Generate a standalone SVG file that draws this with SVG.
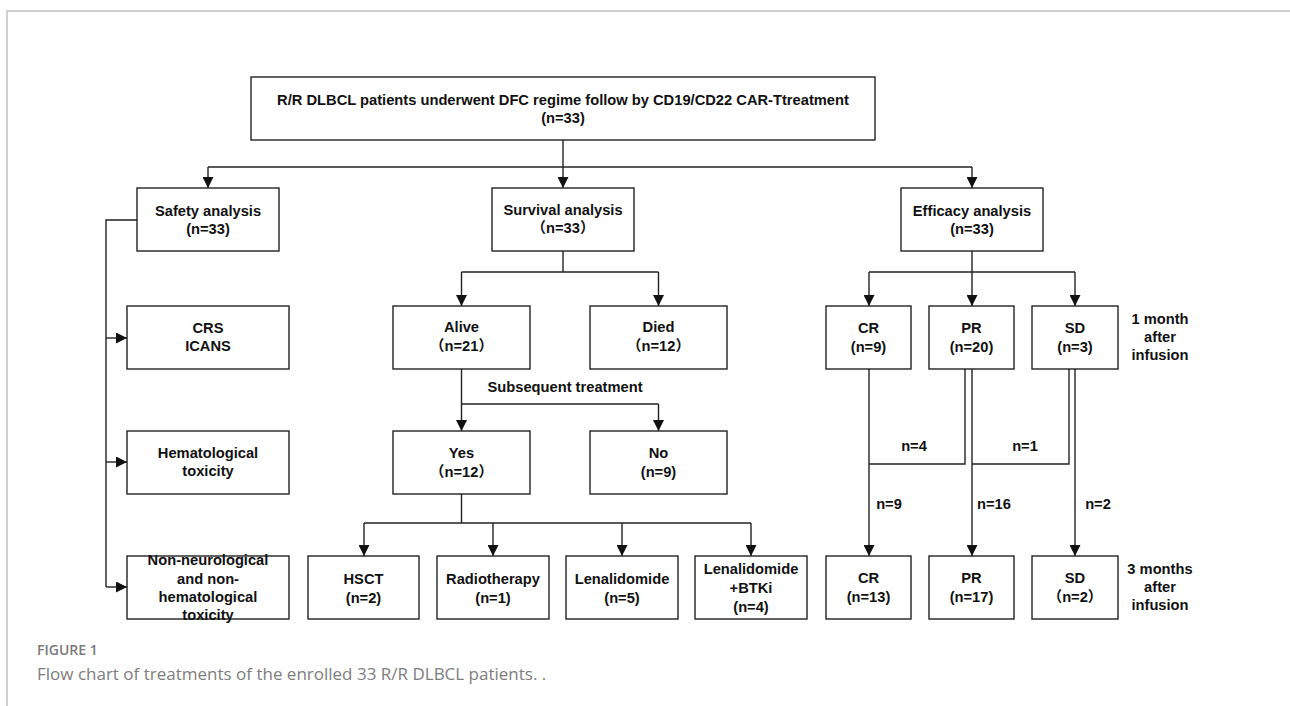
<svg xmlns="http://www.w3.org/2000/svg" width="1290" height="706" viewBox="0 0 1290 706">
<defs>
<marker id="ah" markerUnits="userSpaceOnUse" markerWidth="11" markerHeight="11" refX="11" refY="5.5" orient="auto">
<path d="M0,0 L11,5.5 L0,11 z" fill="#111"/>
</marker>
<style>
.box{fill:#fff;stroke:#222;stroke-width:1.4}
.t{font-family:"Liberation Sans","Noto Sans CJK SC",Arial,sans-serif;font-size:14.7px;font-weight:bold;fill:#111;text-anchor:middle;dominant-baseline:central}
.ln{fill:none;stroke:#222;stroke-width:1.4}
.arr{fill:none;stroke:#222;stroke-width:1.4;marker-end:url(#ah)}
.frame{fill:none;stroke:#d0d0d0;stroke-width:2}
.cap1{font-family:"Open Sans",sans-serif;font-size:14px;font-weight:600;fill:#7a7a7a}
.cap2{font-family:"Open Sans",sans-serif;font-size:17px;fill:#7d7d7d}
</style>
</defs>
<rect width="1290" height="706" fill="#fff"/>
<path class="frame" d="M7,706 V11 H1290"/>

<g id="connectors">
<line class="arr" x1="563" y1="140" x2="563" y2="188"/>
<line class="ln" x1="208" y1="167" x2="972" y2="167"/>
<line class="arr" x1="208" y1="167" x2="208" y2="188"/>
<line class="arr" x1="972" y1="167" x2="972" y2="188"/>

<path class="ln" d="M137,220 H106 V587"/>
<line class="arr" x1="106" y1="338" x2="127" y2="338"/>
<line class="arr" x1="106" y1="462" x2="127" y2="462"/>
<line class="arr" x1="106" y1="587" x2="127" y2="587"/>

<line class="ln" x1="563" y1="251" x2="563" y2="272"/>
<line class="ln" x1="461.5" y1="272" x2="658.5" y2="272"/>
<line class="arr" x1="461.5" y1="272" x2="461.5" y2="306"/>
<line class="arr" x1="658.5" y1="272" x2="658.5" y2="306"/>

<line class="ln" x1="461.5" y1="369" x2="461.5" y2="404"/>
<line class="ln" x1="461.5" y1="404" x2="658.5" y2="404"/>
<line class="arr" x1="461.5" y1="404" x2="461.5" y2="431"/>
<line class="arr" x1="658.5" y1="404" x2="658.5" y2="431"/>

<line class="ln" x1="461.5" y1="494" x2="461.5" y2="523"/>
<line class="ln" x1="364" y1="523" x2="751" y2="523"/>
<line class="arr" x1="364" y1="523" x2="364" y2="556"/>
<line class="arr" x1="493" y1="523" x2="493" y2="556"/>
<line class="arr" x1="622" y1="523" x2="622" y2="556"/>
<line class="arr" x1="751" y1="523" x2="751" y2="556"/>

<line class="ln" x1="972" y1="251" x2="972" y2="272"/>
<line class="ln" x1="869" y1="272" x2="1075" y2="272"/>
<line class="arr" x1="869" y1="272" x2="869" y2="306"/>
<line class="arr" x1="972" y1="272" x2="972" y2="306"/>
<line class="arr" x1="1075" y1="272" x2="1075" y2="306"/>

<line class="arr" x1="869" y1="369" x2="869" y2="556"/>
<path class="ln" d="M965,369 V464 H869"/>
<line class="arr" x1="972" y1="369" x2="972" y2="556"/>
<path class="ln" d="M1069,369 V464 H972"/>
<line class="arr" x1="1075" y1="369" x2="1075" y2="556"/>

<text class="t" x="914" y="446">n=4</text>
<text class="t" x="1025" y="446">n=1</text>
<text class="t" x="889" y="504">n=9</text>
<text class="t" x="994" y="504">n=16</text>
<text class="t" x="1098" y="504">n=2</text>
<text class="t" x="565" y="387">Subsequent treatment</text>
</g>

<g id="n-top"><rect class="box" x="251" y="77" width="624" height="63"/>
<text class="t" x="563" y="100">R/R DLBCL patients underwent DFC regime follow by CD19/CD22 CAR-Ttreatment</text>
<text class="t" x="563" y="118">(n=33)</text></g>

<g id="n-safety"><rect class="box" x="137" y="188" width="142" height="63"/>
<text class="t" x="208" y="211">Safety analysis</text><text class="t" x="208" y="229">(n=33)</text></g>
<g id="n-survival"><rect class="box" x="492" y="188" width="142" height="63"/>
<text class="t" x="563" y="210">Survival analysis</text><text class="t" x="563" y="228">（n=33）</text></g>
<g id="n-efficacy"><rect class="box" x="901" y="188" width="142" height="63"/>
<text class="t" x="972" y="211">Efficacy analysis</text><text class="t" x="972" y="229">(n=33)</text></g>

<g id="n-crs"><rect class="box" x="127" y="306" width="162" height="63"/>
<text class="t" x="208" y="328">CRS</text><text class="t" x="208" y="346">ICANS</text></g>
<g id="n-hema"><rect class="box" x="127" y="431" width="162" height="63"/>
<text class="t" x="208" y="453">Hematological</text><text class="t" x="208" y="471">toxicity</text></g>
<g id="n-nonneuro"><rect class="box" x="127" y="556" width="162" height="63"/>
<text class="t" x="208" y="560">Non-neurological</text><text class="t" x="208" y="579">and non-</text>
<text class="t" x="208" y="597">hematological</text><text class="t" x="208" y="615">toxicity</text></g>

<g id="n-alive"><rect class="box" x="393" y="306" width="137" height="63"/>
<text class="t" x="461.5" y="327">Alive</text><text class="t" x="461.5" y="346">（n=21）</text></g>
<g id="n-died"><rect class="box" x="590" y="306" width="137" height="63"/>
<text class="t" x="658.5" y="327">Died</text><text class="t" x="658.5" y="346">（n=12）</text></g>
<g id="n-yes"><rect class="box" x="393" y="431" width="137" height="63"/>
<text class="t" x="461.5" y="453">Yes</text><text class="t" x="461.5" y="472">（n=12）</text></g>
<g id="n-no"><rect class="box" x="590" y="431" width="137" height="63"/>
<text class="t" x="658.5" y="453">No</text><text class="t" x="658.5" y="472">(n=9)</text></g>

<g id="n-hsct"><rect class="box" x="308" y="556" width="111" height="63"/>
<text class="t" x="363.5" y="579">HSCT</text><text class="t" x="363.5" y="598">(n=2)</text></g>
<g id="n-radio"><rect class="box" x="437" y="556" width="112" height="63"/>
<text class="t" x="493" y="579">Radiotherapy</text><text class="t" x="493" y="598">(n=1)</text></g>
<g id="n-lena"><rect class="box" x="566" y="556" width="112" height="63"/>
<text class="t" x="622" y="579">Lenalidomide</text><text class="t" x="622" y="598">(n=5)</text></g>
<g id="n-btki"><rect class="box" x="695" y="556" width="112" height="63"/>
<text class="t" x="751" y="569">Lenalidomide</text><text class="t" x="751" y="588">+BTKi</text><text class="t" x="751" y="607">(n=4)</text></g>

<g id="n-cr1"><rect class="box" x="826" y="306" width="85" height="63"/>
<text class="t" x="868.5" y="328">CR</text><text class="t" x="868.5" y="347">(n=9)</text></g>
<g id="n-pr1"><rect class="box" x="929" y="306" width="85" height="63"/>
<text class="t" x="971.5" y="328">PR</text><text class="t" x="971.5" y="347">(n=20)</text></g>
<g id="n-sd1"><rect class="box" x="1032" y="306" width="86" height="63"/>
<text class="t" x="1075" y="328">SD</text><text class="t" x="1075" y="347">(n=3)</text></g>

<g id="n-cr2"><rect class="box" x="826" y="556" width="85" height="63"/>
<text class="t" x="868.5" y="578">CR</text><text class="t" x="868.5" y="597">(n=13)</text></g>
<g id="n-pr2"><rect class="box" x="929" y="556" width="85" height="63"/>
<text class="t" x="971.5" y="578">PR</text><text class="t" x="971.5" y="597">(n=17)</text></g>
<g id="n-sd2"><rect class="box" x="1032" y="556" width="86" height="63"/>
<text class="t" x="1075" y="578">SD</text><text class="t" x="1075" y="597">（n=2）</text></g>

<g id="time-labels">
<text class="t" x="1160" y="319">1 month</text><text class="t" x="1160" y="337">after</text><text class="t" x="1160" y="355">infusion</text>
<text class="t" x="1160" y="569">3 months</text><text class="t" x="1160" y="587">after</text><text class="t" x="1160" y="605">infusion</text>
</g>

<g id="caption">
<text class="cap1" x="37" y="655">FIGURE 1</text>
<text class="cap2" x="37" y="680">Flow chart of treatments of the enrolled 33 R/R DLBCL patients. .</text>
</g>
</svg>
